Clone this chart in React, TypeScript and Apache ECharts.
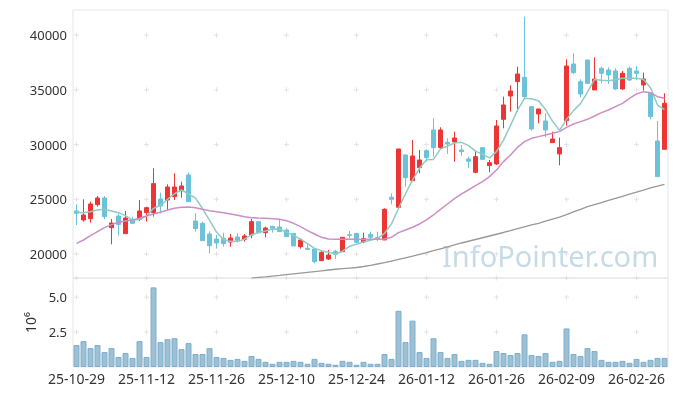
import React, { useEffect, useRef } from "react";
import * as echarts from "echarts";

const dates = [
  "25-10-29","25-10-30","25-10-31","25-11-03","25-11-04","25-11-05","25-11-06","25-11-07","25-11-10","25-11-11",
  "25-11-12","25-11-13","25-11-14","25-11-17","25-11-18","25-11-19","25-11-20","25-11-21","25-11-24","25-11-25",
  "25-11-26","25-11-27","25-11-28","25-12-01","25-12-02","25-12-03","25-12-04","25-12-05","25-12-08","25-12-09",
  "25-12-10","25-12-11","25-12-12","25-12-15","25-12-16","25-12-17","25-12-18","25-12-19","25-12-22","25-12-23",
  "25-12-24","25-12-26","25-12-29","25-12-30","26-01-02","26-01-05","26-01-06","26-01-07","26-01-08","26-01-09",
  "26-01-12","26-01-13","26-01-14","26-01-15","26-01-16","26-01-19","26-01-20","26-01-21","26-01-22","26-01-23",
  "26-01-26","26-01-27","26-01-28","26-01-29","26-01-30","26-02-02","26-02-03","26-02-04","26-02-05","26-02-06",
  "26-02-09","26-02-10","26-02-11","26-02-12","26-02-13","26-02-19","26-02-20","26-02-23","26-02-24","26-02-25",
  "26-02-26","26-02-27","26-03-03","26-03-04","26-03-05"
];

const opens = [
  23925,23103,23225,24505,25114,22403,23469,21854,23164,23164,
  23774,23774,25023,24931,25236,25785,27217,23012,22799,21824,
  21366,21427,21093,21549,21336,21732,22951,21946,22525,22464,
  22190,21885,20666,20514,20453,19386,19538,20239,20209,21763,
  21885,21093,21795,21490,21277,25177,24263,29047,26700,27889,
  29443,31332,29717,30204,30235,29504,28681,27462,29717,28072,
  28224,32307,34440,35750,36146,33465,32795,32155,30174,29138,
  32185,37365,35750,37731,34988,36969,36816,36725,35080,36969,
  36725,35446,34684,30326,29564
];
const closes = [
  23712,23560,24566,25114,23408,22830,22677,23286,22799,23926,
  24231,26425,24383,26120,26120,26211,24779,22312,21214,20757,
  21001,20940,21458,21245,21641,22951,21946,22372,22342,22037,
  21580,20727,21275,20422,19295,20148,19904,19965,21519,21702,
  21062,21397,21520,21368,24080,24994,29595,26974,28955,28590,
  28803,29717,31332,30052,30600,29351,28468,28895,28651,28346,
  31698,33617,34897,36451,34379,31424,33252,31332,30509,29717,
  37182,36573,34623,35598,35994,36512,36359,35080,36512,35903,
  36512,35994,32551,27066,33770
];
const lows = [
  22646,22951,22860,24322,23164,20879,21671,21854,22738,23012,
  22951,23408,23713,24017,24931,25145,24779,22037,21214,20056,
  20483,20666,20666,21031,21123,21427,21885,21519,21946,22037,
  21580,20727,20483,20392,19142,19356,19447,19538,20209,21427,
  20970,20970,21277,21185,21277,24537,24263,26152,26700,27371,
  28438,28895,29565,29138,28438,28986,27828,27371,28590,27462,
  28133,31485,33008,33008,34227,31271,31941,30661,30174,28102,
  31728,36420,34318,35537,34988,35598,35537,34988,34988,35811,
  35903,34927,32307,27066,29564
];
const highs = [
  24538,24992,24779,25297,25297,23195,23713,23926,23408,24931,
  24322,27826,25602,26364,27369,26607,27460,23713,22951,22068,
  21732,21946,21824,21885,21824,23195,22951,22494,22555,23103,
  22342,21885,21427,20879,20453,20361,20361,20361,21519,22098,
  21885,21946,22039,22039,24171,25543,29595,29138,30417,29504,
  29565,32398,31576,30570,31180,29961,28895,29443,29717,28590,
  32246,34379,35415,37121,41692,33465,33252,32856,31180,30631,
  37792,38340,35963,37731,37974,37121,37060,36969,36725,37121,
  37182,36573,34745,32155,34684
];

const volumes = [
  1.57,1.85,1.35,1.57,1.07,1.35,0.72,1.0,0.65,1.85,
  0.72,5.70,1.78,1.99,2.06,1.28,1.71,0.93,0.93,1.35,
  0.72,0.65,0.51,0.58,0.44,0.79,0.58,0.37,0.23,0.37,
  0.37,0.44,0.37,0.23,0.58,0.30,0.23,0.16,0.44,0.37,
  0.16,0.37,0.23,0.23,0.93,0.58,4.02,1.78,3.32,1.07,
  0.65,2.06,1.07,0.65,0.93,0.44,0.51,0.51,0.30,0.23,
  1.14,1.0,0.86,1.0,2.34,0.86,0.79,1.0,0.37,0.44,
  2.76,0.93,0.79,1.35,1.14,0.51,0.37,0.37,0.44,0.30,
  0.58,0.37,0.51,0.65,0.65
];

const ma5 = [
  23804,23774,23865,24017,24079,23926,23774,23500,23100,23150,
  23450,24170,24450,24992,25500,25845,25500,25100,24150,23100,
  22000,21300,21150,21150,21350,21750,21950,22100,22281,22250,
  22000,21700,21350,20950,20500,20300,20160,19996,20250,20700,
  20880,21100,21250,21429,21886,22750,24150,25500,26750,27828,
  28620,28640,29600,29850,30140,30204,29900,29400,29100,28780,
  29350,30400,31750,33150,34227,34180,34000,33200,32140,31300,
  32300,33100,33740,34790,35950,35880,35830,35930,36070,36060,
  36060,35950,35200,33610,33200
];
const ma20 = [
  20970,21275,21671,22037,22403,22677,22890,23012,23103,23256,
  23469,23652,23804,24017,24170,24261,24292,24231,24078,23956,
  23865,23774,23652,23530,23408,23317,23286,23256,23225,23164,
  23043,22799,22494,22128,21824,21519,21366,21336,21336,21336,
  21336,21320,21338,21338,21368,21520,21947,22191,22435,22740,
  23105,23562,24080,24567,25055,25482,25847,26243,26609,27066,
  27675,28438,29047,29748,30266,30570,30723,30875,31027,31180,
  31576,31880,32094,32307,32612,32917,33160,33465,33770,34227,
  34623,34836,34745,34379,34227
];
const ma120: (number | string)[] = [
  "-","-","-","-","-","-","-","-","-","-",
  "-","-","-","-","-","-","-","-","-","-",
  "-","-","-","-","-",17790,17850,17910,17980,18040,
  18110,18180,18250,18320,18390,18460,18530,18600,18660,18710,
  18760,18850,18960,19080,19200,19350,19500,19650,19800,19960,
  20120,20300,20470,20640,20820,21000,21160,21320,21480,21640,
  21800,21960,22130,22310,22480,22650,22800,22990,23180,23370,
  23600,23840,24080,24320,24510,24700,24890,25080,25270,25460,
  25650,25840,26030,26200,26370
];

const priceTicks = [20000, 25000, 30000, 35000, 40000];
const volTicks = [2.5, 5.0];
const tickCategories = [0, 10, 20, 30, 40, 50, 60, 70, 80];
const priceMin = 17800;
const priceMax = 42300;
const volMax = 6.37;

const FONT = "'Noto Sans', 'Open Sans', sans-serif";

export default function App() {
  const ref = useRef<HTMLDivElement>(null);

  useEffect(() => {
    if (!ref.current) return;
    const chart = echarts.init(ref.current, undefined, { renderer: "svg" });

    const priceCross: number[][] = [];
    tickCategories.forEach((c) => {
      priceTicks.forEach((p) => priceCross.push([c, p]));
      priceCross.push([c, priceMin]);
    });
    const volCross: number[][] = [];
    tickCategories.forEach((c) => {
      volTicks.forEach((v) => volCross.push([c, v]));
    });

    const crossColor = "#dddddd";
    const crossSeries = (data: number[][], xi: number, yi: number) => [
      {
        type: "scatter",
        xAxisIndex: xi,
        yAxisIndex: yi,
        data,
        symbol: "rect",
        symbolSize: [5, 1],
        itemStyle: { color: crossColor },
        silent: true,
        clip: false,
        z: 1,
      },
      {
        type: "scatter",
        xAxisIndex: xi,
        yAxisIndex: yi,
        data,
        symbol: "rect",
        symbolSize: [1, 5],
        itemStyle: { color: crossColor },
        silent: true,
        clip: false,
        z: 1,
      },
    ];

    const ohlc = dates.map((_, i) => [opens[i], closes[i], lows[i], highs[i]]);

    chart.setOption({
      animation: false,
      textStyle: { fontFamily: FONT },
      graphic: [
        {
          type: "text",
          x: 442,
          y: 255,
          z: 0,
          silent: true,
          style: {
            text: "InfoPointer.com",
            fontSize: 29,
            fontFamily: FONT,
            fill: "#c6dbe6",
            verticalAlign: "middle",
          },
        },
      ],
      grid: [
        { left: 73, top: 10, width: 595, height: 268, show: true, borderColor: "#e6e6e6", borderWidth: 1 },
        { left: 73, top: 278, width: 595, height: 89, show: true, borderColor: "#e6e6e6", borderWidth: 1 },
      ],
      xAxis: [
        {
          type: "category",
          gridIndex: 0,
          data: dates,
          boundaryGap: true,
          axisLine: { show: false },
          axisTick: { show: false },
          axisLabel: { show: false },
          splitLine: { show: false },
        },
        {
          type: "category",
          gridIndex: 1,
          data: dates,
          boundaryGap: true,
          axisLine: { show: false },
          axisTick: { show: false },
          axisLabel: { interval: 9, fontSize: 14, color: "#333", margin: 4, fontFamily: FONT },
          splitLine: { show: false },
        },
      ],
      yAxis: [
        {
          type: "value",
          gridIndex: 0,
          min: priceMin,
          max: priceMax,
          splitNumber: 5,
          axisLine: { show: false },
          axisTick: { show: false },
          splitLine: { show: false },
          axisLabel: {
            fontSize: 13,
            color: "#333",
            margin: 6,
            fontFamily: FONT,
            showMinLabel: false,
            showMaxLabel: false,
            formatter: (v: number) => String(v),
          },
        },
        {
          type: "value",
          gridIndex: 1,
          min: 0,
          max: volMax,
          interval: 2.5,
          name: "10⁶",
          nameLocation: "middle",
          nameRotate: 90,
          nameGap: 35,
          nameTextStyle: { fontSize: 14, color: "#333", fontFamily: FONT },
          axisLine: { show: false },
          axisTick: { show: false },
          splitLine: { show: false },
          axisLabel: {
            fontSize: 13,
            color: "#333",
            margin: 6,
            fontFamily: FONT,
            showMinLabel: false,
            showMaxLabel: false,
            formatter: (v: number) => v.toFixed(1),
          },
        },
      ],
      series: [
        ...crossSeries(priceCross, 0, 0),
        ...crossSeries(volCross, 1, 1),
        {
          name: "price",
          type: "candlestick",
          xAxisIndex: 0,
          yAxisIndex: 0,
          data: ohlc,
          barWidth: 4,
          itemStyle: {
            color: "#ee3535",
            color0: "#6cc2d8",
            borderColor: "#ee3535",
            borderColor0: "#6cc2d8",
            borderWidth: 1,
          },
          z: 3,
        },
        {
          name: "MA5",
          type: "line",
          xAxisIndex: 0,
          yAxisIndex: 0,
          data: ma5,
          symbol: "none",
          lineStyle: { color: "#8fcbc3", width: 1.5 },
          z: 4,
        },
        {
          name: "MA20",
          type: "line",
          xAxisIndex: 0,
          yAxisIndex: 0,
          data: ma20,
          symbol: "none",
          lineStyle: { color: "#cc8ec6", width: 1.5 },
          z: 4,
        },
        {
          name: "MA120",
          type: "line",
          xAxisIndex: 0,
          yAxisIndex: 0,
          data: ma120,
          symbol: "none",
          lineStyle: { color: "#999999", width: 1.3 },
          z: 4,
        },
        {
          name: "volume",
          type: "bar",
          xAxisIndex: 1,
          yAxisIndex: 1,
          data: volumes,
          barWidth: 6,
          itemStyle: { color: "#9dc0d2", borderColor: "#7eaecf", borderWidth: 1 },
          z: 3,
        },
      ],
    });

    return () => {
      chart.dispose();
    };
  }, []);

  return (
    <div
      ref={ref}
      style={{ position: "fixed", left: 0, top: 0, width: 677, height: 396 }}
    />
  );
}
